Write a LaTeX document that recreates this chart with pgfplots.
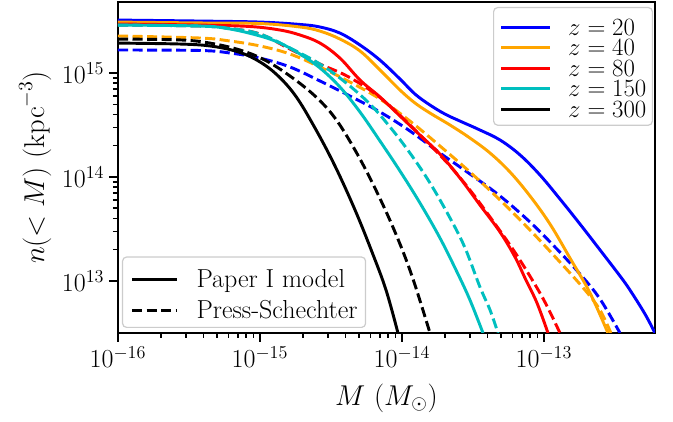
\RequirePackage{fix-cm}
\documentclass[border=0pt]{standalone}
\usepackage{pgfplots}
\pgfplotsset{compat=1.18}
\definecolor{mblue}{RGB}{0,0,255}
\definecolor{morange}{RGB}{255,165,0}
\definecolor{mred}{RGB}{255,0,0}
\definecolor{mcyan}{RGB}{0,191,191}
\pgfplotsset{
  sl/.style={line width=2.2pt, smooth, tension=0.6},
  ds/.style={line width=2.2pt, smooth, tension=0.6, dash pattern=on 7.6pt off 3.3pt},
}
\begin{document}
\begin{tikzpicture}
\begin{axis}[
  scale only axis, width=402.75pt, height=248.25pt,
  xmode=log, ymode=log,
  xmin=1e-16, xmax=6.05e-13, ymin=3.16e12, ymax=4.82e15,
  axis line style={line width=1.6pt},
  tick pos=left, tick align=outside,
  major tick length=6.75pt, minor tick length=3.75pt,
  every tick/.style={black, line width=1.2pt},
  xtick={1e-16,1e-15,1e-14,1e-13}, ytick={1e13,1e14,1e15},
  ticklabel style={font=\fontsize{19.5}{22}\selectfont},
  xlabel={$M$ $(M_\odot)$}, ylabel={$n(<M)$ $(\mathrm{kpc}^{-3})$},
  label style={font=\fontsize{21.5}{24}\selectfont},
  xlabel style={at={(axis description cs:0.5,-0.197)}, anchor=center},
  ylabel style={at={(axis description cs:-0.154,0.5)}, anchor=center},
  legend style={at={(rel axis cs:1,1)}, anchor=north east, xshift=-1.5pt, yshift=-3.75pt,
    draw=black!20, rounded corners=3pt, line width=0.9pt, fill=white,
    font=\fontsize{18.6}{22}\selectfont, inner xsep=4.5pt, inner ysep=6pt,
    nodes={inner sep=0pt, text height=14.6pt, text depth=0pt},
    row sep=0.8pt, column sep=12.5pt},
  legend cell align=left,
  legend image code/.code={\draw[#1] (0pt,-1.3pt) -- (36.75pt,-1.3pt);},
]
% z = 20
\addplot[sl, mblue] coordinates {(1e-16,3.23e15)(3.78e-16,3.16e15)(1e-15,3.09e15)(1.913e-15,2.93e15)(2.646e-15,2.77e15)(3.66e-15,2.42e15)(5.06e-15,1.86e15)(7.00e-15,1.33e15)(9.68e-15,8.76e14)(1.234e-14,6.28e14)(1.575e-14,4.92e14)(2.008e-14,4.03e14)(2.56e-14,3.45e14)(3.54e-14,2.83e14)(4.90e-14,2.27e14)(6.78e-14,1.63e14)(9.37e-14,1.045e14)(1.296e-13,6.14e13)(1.792e-13,3.53e13)(2.48e-13,1.99e13)(3.43e-13,1.117e13)(4.03e-13,8.19e12)(5.14e-13,4.82e12)(6.05e-13,3.16e12)};
\addlegendentry{$z = 20$}
\addplot[ds, mblue, forget plot] coordinates {(1e-16,1.664e15)(3.78e-16,1.646e15)(6.15e-16,1.557e15)(1e-15,1.39e15)(1.627e-15,1.142e15)(2.646e-15,8.38e14)(4.30e-15,6.01e14)(7.00e-15,4.22e14)(1.138e-14,2.77e14)(1.852e-14,1.70e14)(3.01e-14,1.069e14)(4.90e-14,6.57e13)(7.97e-14,3.69e13)(1.195e-13,2.12e13)(1.792e-13,1.168e13)(2.48e-13,6.71e12)(3.43e-13,3.16e12)};
% z = 40
\addplot[sl, morange] coordinates {(1e-16,3.09e15)(3.78e-16,3.03e15)(1e-15,2.99e15)(1.913e-15,2.77e15)(2.646e-15,2.53e15)(3.66e-15,2.12e15)(5.06e-15,1.63e15)(7.00e-15,1.07e15)(9.68e-15,6.86e14)(1.234e-14,5.15e14)(1.575e-14,4.12e14)(2.18e-14,3.16e14)(3.01e-14,2.37e14)(4.17e-14,1.70e14)(5.76e-14,1.117e14)(7.97e-14,6.57e13)(1.102e-13,3.53e13)(1.525e-13,1.66e13)(2.11e-13,7.66e12)(2.82e-13,3.16e12)};
\addlegendentry{$z = 40$}
\addplot[ds, morange, forget plot] coordinates {(1e-16,2.27e15)(3.78e-16,2.17e15)(6.15e-16,2.03e15)(1e-15,1.82e15)(1.627e-15,1.523e15)(2.646e-15,1.142e15)(4.30e-15,8.19e14)(7.00e-15,5.62e14)(1.138e-14,3.45e14)(1.852e-14,1.986e14)(3.01e-14,1.117e14)(4.90e-14,6.01e13)(7.97e-14,3.09e13)(1.296e-13,1.52e13)(1.944e-13,8.19e12)(2.48e-13,5.26e12)(2.96e-13,3.16e12)};
% z = 80
\addplot[sl, mred] coordinates {(1e-16,2.96e15)(3.78e-16,2.89e15)(8.50e-16,2.80e15)(1.383e-15,2.59e15)(1.913e-15,2.32e15)(2.646e-15,1.94e15)(3.66e-15,1.39e15)(5.06e-15,8.57e14)(7.00e-15,5.88e14)(9.68e-15,3.86e14)(1.339e-14,2.53e14)(1.852e-14,1.66e14)(2.56e-14,9.78e13)(3.54e-14,5.38e13)(4.90e-14,2.96e13)(6.25e-14,1.70e13)(7.35e-14,1.068e13)(8.93e-14,6.14e12)(1.067e-13,3.16e12)};
\addlegendentry{$z = 80$}
\addplot[ds, mred, forget plot] coordinates {(1e-16,2.89e15)(3.78e-16,2.83e15)(6.15e-16,2.68e15)(1e-15,2.37e15)(1.627e-15,1.70e15)(2.646e-15,1.22e15)(3.97e-15,9.57e14)(5.95e-15,6.86e14)(8.23e-15,4.82e14)(1.138e-14,3.16e14)(1.575e-14,2.03e14)(2.18e-14,1.276e14)(3.01e-14,7.50e13)(4.17e-14,4.12e13)(5.76e-14,2.22e13)(7.35e-14,1.33e13)(9.37e-14,7.66e12)(1.102e-13,5.03e12)(1.296e-13,3.16e12)};
% z = 150
\addplot[sl, mcyan] coordinates {(1e-16,2.89e15)(3.78e-16,2.83e15)(6.15e-16,2.65e15)(1e-15,2.27e15)(1.383e-15,1.94e15)(1.913e-15,1.523e15)(2.646e-15,1.117e15)(3.66e-15,7.33e14)(5.06e-15,4.22e14)(7.00e-15,2.22e14)(9.68e-15,1.142e14)(1.339e-14,5.62e13)(1.852e-14,2.59e13)(2.44e-14,1.22e13)(3.01e-14,6.57e12)(3.72e-14,3.16e12)};
\addlegendentry{$z = 150$}
\addplot[ds, mcyan, forget plot] coordinates {(1e-16,2.89e15)(3.78e-16,2.83e15)(6.15e-16,2.68e15)(1e-15,2.37e15)(1.627e-15,1.74e15)(2.646e-15,1.22e15)(3.97e-15,8.19e14)(5.95e-15,5.03e14)(8.23e-15,3.03e14)(1.138e-14,1.70e14)(1.575e-14,8.76e13)(2.18e-14,4.03e13)(2.78e-14,2.08e13)(3.54e-14,8.76e12)(4.17e-14,5.26e12)(4.74e-14,3.16e12)};
% z = 300
\addplot[sl, black] coordinates {(1e-16,1.94e15)(2.73e-16,1.90e15)(4.44e-16,1.82e15)(6.67e-16,1.63e15)(9.22e-16,1.363e15)(1.275e-15,1.00e15)(1.764e-15,6.14e14)(2.44e-15,2.96e14)(3.375e-15,1.276e14)(4.67e-15,4.82e13)(6.15e-15,1.90e13)(7.72e-15,8.19e12)(9.37e-15,3.16e12)};
\addlegendentry{$z = 300$}
\addplot[ds, black, forget plot] coordinates {(1e-16,2.12e15)(2.73e-16,2.08e15)(4.44e-16,1.94e15)(7.23e-16,1.664e15)(1.084e-15,1.33e15)(1.627e-15,9.36e14)(2.44e-15,6.01e14)(3.375e-15,3.69e14)(4.67e-15,1.817e14)(6.45e-15,7.84e13)(8.93e-15,2.96e13)(1.176e-14,1.117e13)(1.575e-14,3.16e12)};
\end{axis}
\begin{axis}[
  scale only axis, width=402.75pt, height=248.25pt,
  xmode=log, ymode=log,
  xmin=1e-16, xmax=6.05e-13, ymin=3.16e12, ymax=4.82e15,
  hide axis,
  legend style={at={(rel axis cs:0,0)}, anchor=south west, xshift=3pt, yshift=3.75pt,
    draw=black!20, rounded corners=3pt, line width=0.9pt, fill=white,
    font=\fontsize{19.5}{22}\selectfont, inner xsep=6pt, inner ysep=6pt,
    nodes={inner sep=0pt, text height=16.5pt, text depth=1pt},
    row sep=5.75pt, column sep=13.5pt},
  legend cell align=left,
  legend image code/.code={\draw[#1] (0pt,-1.75pt) -- (33.75pt,-1.75pt);},
]
\addlegendimage{black, line width=2.2pt}
\addlegendentry{Paper I model}
\addlegendimage{black, line width=2.2pt, dash pattern=on 7.6pt off 3.3pt}
\addlegendentry{Press-Schechter}
\end{axis}
\pgfresetboundingbox
\path[use as bounding box] (-88.5pt,-66pt) rectangle (416.25pt,249.75pt);
\end{tikzpicture}
\end{document}
